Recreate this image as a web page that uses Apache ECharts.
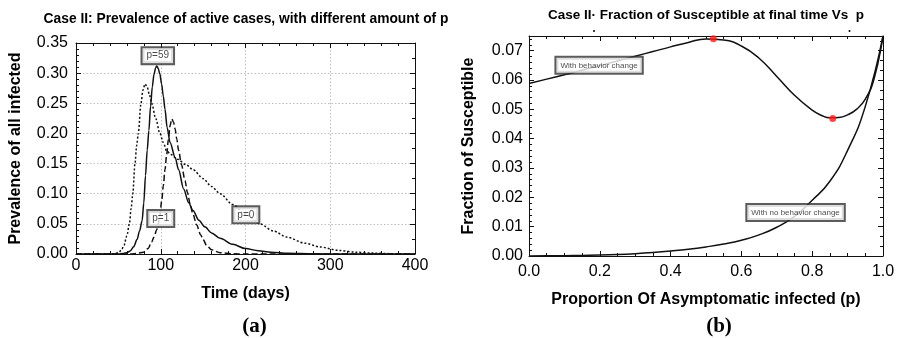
<!DOCTYPE html>
<html>
<head>
<meta charset="utf-8">
<script src="https://cdn.jsdelivr.net/npm/echarts@6/dist/echarts.min.js"></script>
<style>
  html, body { margin: 0; padding: 0; background: #fff; }
  #chart { width: 899px; height: 338px; }
</style>
</head>
<body>
<div id="chart"></div>
<script>
// ---- Panel (a): prevalence of active cases over time ----
const p59Days = [0, 50, 56, 60, 64, 68, 72, 75, 78, 80, 82, 84, 86, 88, 90, 92, 94, 95.3, 97, 99, 101, 103, 105, 107.5, 111, 117, 121, 127, 133, 138, 145, 152, 160, 170, 185, 200, 215, 230, 250, 280, 320, 400];
const p59Prev = [0, 0, 0.001, 0.002, 0.005, 0.012, 0.024, 0.038, 0.055, 0.085, 0.13, 0.172, 0.205, 0.245, 0.277, 0.298, 0.309, 0.312, 0.308, 0.298, 0.282, 0.262, 0.24, 0.21, 0.185, 0.16, 0.14, 0.108, 0.085, 0.072, 0.056, 0.045, 0.035, 0.026, 0.016, 0.009, 0.0055, 0.003, 0.0012, 0.0003, 0, 0];

const p0Days = [0, 45, 51, 54, 56.6, 60, 63, 65, 67, 69.6, 71.6, 73.5, 76.7, 79, 81.4, 84, 86.5, 89.3, 94, 99, 103, 107, 112, 120, 130, 138, 150, 160, 170, 185, 200, 217, 233, 249, 270, 288, 310, 330, 350, 370, 400];
const p0Prev = [0, 0, 0.003, 0.008, 0.0145, 0.03, 0.05, 0.075, 0.10, 0.15, 0.18, 0.20, 0.25, 0.272, 0.282, 0.277, 0.265, 0.25, 0.225, 0.20, 0.185, 0.171, 0.165, 0.157, 0.148, 0.14, 0.125, 0.112, 0.100, 0.082, 0.066, 0.05, 0.038, 0.028, 0.018, 0.0116, 0.006, 0.003, 0.0015, 0.0006, 0];

const p1Days = [0, 65, 72, 79.5, 85, 89.3, 92, 95.2, 97, 99, 101, 103, 105, 107, 109, 111, 113, 115, 117, 119, 121, 124.5, 128.6, 131.5, 134.5, 138, 142.4, 147, 150, 154, 160, 170, 185, 200, 400];
const p1Prev = [0, 0, 0.001, 0.003, 0.009, 0.020, 0.028, 0.040, 0.05, 0.064, 0.087, 0.113, 0.14, 0.165, 0.19, 0.213, 0.224, 0.219, 0.207, 0.19, 0.172, 0.148, 0.122, 0.102, 0.084, 0.066, 0.048, 0.032, 0.024, 0.0145, 0.007, 0.002, 0.0003, 0, 0];

const daysTicks = [0, 100, 200, 300, 400];
const prevTicks = [0, 0.05, 0.10, 0.15, 0.20, 0.25, 0.30, 0.35];

// tag text and where it sits, in (days, prevalence)
const curveTagText = ['p=59', 'p=1', 'p=0'];
const curveTagAt = [[96.5, 0.329], [100, 0.0588], [200.4, 0.065]];

// ---- Panel (b): final susceptible fraction vs proportion asymptomatic ----
const propP = [0, 0.05, 0.1, 0.15, 0.2, 0.25, 0.3, 0.35, 0.4, 0.45, 0.5, 0.55, 0.6, 0.65, 0.7, 0.75, 0.8, 0.825, 0.85, 0.875, 0.9, 0.925, 0.95, 0.975, 1.0];
const suscWithChange = [0.0588, 0.0603, 0.0618, 0.0633, 0.0649, 0.0665, 0.0681, 0.0697, 0.0713, 0.0728, 0.0740, 0.0736, 0.0716, 0.0674, 0.0612, 0.0548, 0.0497, 0.0480, 0.0471, 0.0472, 0.0481, 0.0500, 0.0535, 0.0605, 0.0750];

const propQ = [0, 0.05, 0.1, 0.15, 0.2, 0.25, 0.3, 0.35, 0.4, 0.45, 0.5, 0.55, 0.6, 0.65, 0.7, 0.75, 0.8, 0.85, 0.9, 0.95, 1.0];
const suscNoChange = [0, 0.00005, 0.0001, 0.0002, 0.0003, 0.0005, 0.0008, 0.0012, 0.0017, 0.0023, 0.0031, 0.0041, 0.0054, 0.0072, 0.0098, 0.0135, 0.019, 0.0255, 0.036, 0.051, 0.075];

const extremaP = [0.521, 0.858];
const extremaS = [0.0741, 0.0469];

const bTagText = ['With behavior change', 'With no behavior change'];
const bTagAt = [[0.198, 0.065], [0.753, 0.0148]];

const zip = (xs, ys) => xs.map((x, i) => [x, ys[i]]);

const FONT = 'Liberation Sans, Arial, sans-serif';
const INK = '#111';

function frameAxis(gridIndex, pos, min, max, interval, minorSplit, extra) {
  return Object.assign({
    type: 'value', gridIndex: gridIndex, position: pos,
    min: min, max: max, interval: interval,
    axisLine: { show: true, onZero: false, lineStyle: { color: INK, width: 1 } },
    axisTick: { show: true, inside: true, length: 5, lineStyle: { color: INK } },
    minorTick: { show: true, splitNumber: minorSplit, length: 3, lineStyle: { color: INK } },
    axisLabel: { show: false },
    splitLine: { show: false }
  }, extra || {});
}

const labelStyle = (fmt, margin) => ({
  show: true, fontSize: 16, fontFamily: FONT, color: '#000', margin: margin, formatter: fmt
});
const nameStyle = { fontSize: 16, fontWeight: 'bold', fontFamily: FONT, color: '#000' };
const gridDots = { show: true, lineStyle: { color: '#bdbdbd', type: [1.5, 2], width: 1 } };

const chart = echarts.init(document.getElementById('chart'), null, { renderer: 'canvas' });

const tagLabel = (size, pad) => ({
  show: true, position: 'inside', formatter: p => p.name,
  fontSize: size, fontFamily: FONT, color: '#1a1a1a',
  backgroundColor: '#fff', borderColor: '#333', borderWidth: 2, padding: pad
});

const lineCommon = { showSymbol: false, smooth: 0.3, smoothMonotone: 'x', z: 3 };

chart.setOption({
  animation: false,
  backgroundColor: '#fff',
  grid: [
    { left: 76, top: 43, width: 339, height: 211 },
    { left: 529, top: 36, width: 354, height: 220 }
  ],
  xAxis: [
    frameAxis(0, 'bottom', daysTicks[0], daysTicks[daysTicks.length - 1], 100, 5, {
      axisLabel: labelStyle(v => String(v), 4),
      splitLine: gridDots,
      name: 'Time (days)', nameLocation: 'middle', nameGap: 32, nameTextStyle: nameStyle
    }),
    frameAxis(0, 'top', 0, 400, 100, 5),
    frameAxis(1, 'bottom', 0, 1, 0.2, 4, {
      axisLabel: labelStyle(v => v.toFixed(1), 8),
      name: 'Proportion Of Asymptomatic infected (p)', nameLocation: 'middle', nameGap: 36, nameTextStyle: nameStyle
    }),
    frameAxis(1, 'top', 0, 1, 0.2, 4)
  ],
  yAxis: [
    frameAxis(0, 'left', prevTicks[0], prevTicks[prevTicks.length - 1], 0.05, 5, {
      axisLabel: labelStyle(v => v.toFixed(2), 8),
      splitLine: gridDots,
      name: 'Prevalence of all infected', nameLocation: 'middle', nameGap: 52, nameTextStyle: nameStyle
    }),
    frameAxis(0, 'right', 0, 0.35, 0.05, 2),
    frameAxis(1, 'left', 0, 0.075, 0.01, 5, {
      axisLabel: Object.assign(labelStyle(v => v.toFixed(2), 6), { showMaxLabel: false }),
      name: 'Fraction of Susceptible', nameLocation: 'middle', nameGap: 52, nameTextStyle: nameStyle
    }),
    frameAxis(1, 'right', 0, 0.075, 0.01, 3)
  ],
  series: [
    Object.assign({
      type: 'line', xAxisIndex: 0, yAxisIndex: 0, data: zip(p0Days, p0Prev),
      lineStyle: { color: INK, width: 1.5, type: [2, 2] }
    }, lineCommon),
    Object.assign({
      type: 'line', xAxisIndex: 0, yAxisIndex: 0, data: zip(p1Days, p1Prev),
      lineStyle: { color: INK, width: 1.5, type: [6, 3] }
    }, lineCommon),
    Object.assign({
      type: 'line', xAxisIndex: 0, yAxisIndex: 0, data: zip(p59Days, p59Prev),
      lineStyle: { color: INK, width: 1.5 }
    }, lineCommon),
    {
      type: 'scatter', xAxisIndex: 0, yAxisIndex: 0, symbolSize: 0, z: 10,
      data: curveTagText.map((t, i) => ({ name: t, value: curveTagAt[i] })),
      label: tagLabel(10, [3, 4, 2, 4])
    },
    {
      type: 'line', xAxisIndex: 2, yAxisIndex: 2, data: zip(propP, suscWithChange),
      showSymbol: false, smooth: 0.5, z: 3,
      lineStyle: { color: INK, width: 1.5 }
    },
    {
      type: 'line', xAxisIndex: 2, yAxisIndex: 2, data: zip(propQ, suscNoChange),
      showSymbol: false, smooth: 0.5, z: 3,
      lineStyle: { color: INK, width: 1.5 }
    },
    {
      type: 'scatter', xAxisIndex: 2, yAxisIndex: 2, symbolSize: 7,
      itemStyle: { color: '#ff1a1a' }, z: 5,
      data: zip(extremaP, extremaS)
    },
    {
      type: 'scatter', xAxisIndex: 2, yAxisIndex: 2, symbolSize: 0, z: 10,
      data: bTagText.map((t, i) => ({ name: t, value: bTagAt[i] })),
      label: tagLabel(8, [4, 4, 3, 4])
    }
  ],
  graphic: [
    {
      type: 'text', x: 246, y: 19,
      style: { text: 'Case II: Prevalence of active cases, with different amount of p', fontSize: 13.8, fontWeight: 'bold', fontFamily: FONT, fill: '#000', align: 'center', verticalAlign: 'middle' }
    },
    {
      type: 'text', x: 706, y: 15,
      style: { text: 'Case II\u00b7 Fraction of Susceptible at final time Vs  p', fontSize: 13.5, fontWeight: 'bold', fontFamily: FONT, fill: '#000', align: 'center', verticalAlign: 'middle' }
    },
    { type: 'circle', shape: { cx: 594, cy: 31, r: 1 }, style: { fill: '#000' } },
    { type: 'circle', shape: { cx: 849.5, cy: 31, r: 1 }, style: { fill: '#000' } },
    {
      type: 'text', x: 254.5, y: 327,
      style: { text: '(a)', fontSize: 21, fontWeight: 'bold', fontFamily: 'Liberation Serif, Times New Roman, serif', fill: '#000', align: 'center', verticalAlign: 'middle' }
    },
    {
      type: 'text', x: 719, y: 327,
      style: { text: '(b)', fontSize: 21, fontWeight: 'bold', fontFamily: 'Liberation Serif, Times New Roman, serif', fill: '#000', align: 'center', verticalAlign: 'middle' }
    }
  ]
});
</script>
</body>
</html>
